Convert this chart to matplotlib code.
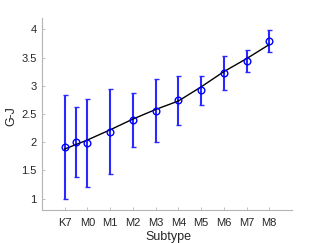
import matplotlib
matplotlib.use("Agg")
import matplotlib.pyplot as plt

plt.rcParams['font.family'] = ['Liberation Sans', 'DejaVu Sans']

# measured points (x: K7=-1, M0=0 ... M8=8)
x_pts = [-1, -0.5, 0, 1, 2, 3, 4, 5, 6, 7, 8]
gj = [1.92, 2.01, 1.98, 2.19, 2.39, 2.56, 2.74, 2.92, 3.23, 3.44, 3.79]
gj_err = [0.92, 0.62, 0.78, 0.76, 0.48, 0.56, 0.43, 0.26, 0.30, 0.20, 0.20]

# fitted relation
x_fit = [-1, 0, 1, 2, 3, 4, 5, 6, 7, 8]
gj_fit = [1.88, 2.04, 2.22, 2.41, 2.58, 2.73, 2.98, 3.25, 3.48, 3.73]

ticks = [-1, 0, 1, 2, 3, 4, 5, 6, 7, 8]
tick_labels = ['K7', 'M0', 'M1', 'M2', 'M3', 'M4', 'M5', 'M6', 'M7', 'M8']

fig = plt.figure(figsize=(3.24, 2.43), dpi=100)
ax = fig.add_axes([42/324, 1 - 210/243, 250/324, 192/243])

ax.errorbar(x_pts, gj, yerr=gj_err, fmt='none', ecolor='#2a2aff',
            elinewidth=1.5, capsize=1.8, capthick=1.0, zorder=2)
ax.plot(x_fit, gj_fit, color='black', linewidth=1.0, zorder=3)
ax.plot(x_pts, gj, linestyle='none', marker='o', markersize=4.8,
        markerfacecolor='none', markeredgecolor='#0000ff',
        markeredgewidth=1.0, zorder=4)

ax.set_xlim(-2, 9)
ax.set_ylim(0.8, 4.2)
ax.set_xticks(ticks)
ax.set_xticklabels(tick_labels)
ax.set_yticks([1, 1.5, 2, 2.5, 3, 3.5, 4])
ax.set_yticklabels(['1', '1.5', '2', '2.5', '3', '3.5', '4'])

for s in ['top', 'right']:
    ax.spines[s].set_visible(False)
for s in ['left', 'bottom']:
    ax.spines[s].set_color('#b4b4b4')
    ax.spines[s].set_linewidth(0.8)
ax.tick_params(direction='in', length=2.5, width=0.6, color='#b4b4b4',
               labelsize=8, labelcolor='#262626')
ax.tick_params(axis='x', pad=6)
ax.tick_params(axis='y', pad=4)

ax.set_xlabel('Subtype', fontsize=9, color='#262626')
ax.set_ylabel('G-J', fontsize=9, color='#262626')
ax.xaxis.set_label_coords(0.504, -0.11)
ax.yaxis.set_label_coords(-0.1, 0.49)

fig.savefig('out.png', dpi=100)
